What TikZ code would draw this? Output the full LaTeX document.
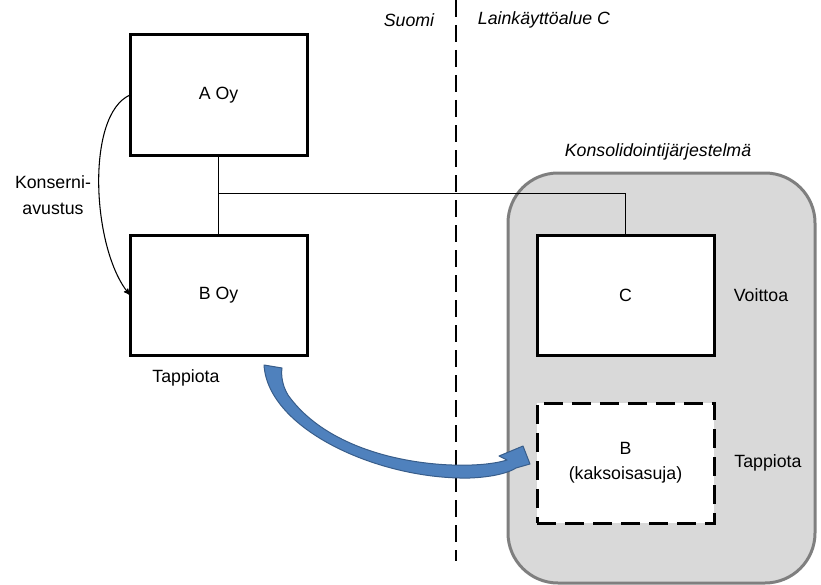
\documentclass[tikz,border=0pt]{standalone}
\usepackage{fontspec}
\setmainfont{Liberation Sans}
\usetikzlibrary{positioning}
\usetikzlibrary{arrows}
\definecolor{groupfill}{HTML}{D9D9D9}
\definecolor{groupline}{HTML}{7F7F7F}
\definecolor{movefill}{HTML}{4F81BD}
\definecolor{moveline}{HTML}{385D8A}
\tikzset{co/.style={rectangle,draw=black,line width=2.25pt,fill=white,minimum width=132.75pt,minimum height=90pt,inner sep=0pt,outer sep=0pt,align=center}}
\tikzset{twin/.style={co,dash pattern=on 14pt off 7pt}}
\tikzset{lbl/.style={inner sep=0pt,align=center}}
\tikzset{>=stealth'}

\begin{document}
\begin{tikzpicture}[x=0.75pt,y=-0.75pt,font=\fontsize{13.3}{19}\selectfont]
\useasboundingbox (0,0) rectangle (821,585);

% konsolidointi
\draw[fill=groupfill,draw=groupline,line width=2.25pt,rounded corners=37.5pt] (508,173) rectangle (815,583);
\node[lbl] (kons) at (658,152) {\itshape Konsolidointijärjestelmä};

% raja
\coordinate (top) at (456,0);
\coordinate (bot) at (456,561);
\draw[line width=1.5pt,dash pattern=on 12.75pt off 6pt] (top) -- (bot);
\node[lbl] (fi) at (409,20) {\itshape Suomi};
\node[lbl] (lc) at (544,20) {\itshape Lainkäyttöalue C};

\node[co] (A) at (218.5,95) {A Oy};
\node[co, below=60pt of A] (B) {B Oy};
\node[co, right=172.5pt of B] (C) {C};
\node[twin, below=36pt of C] (Bd) {B\\(kaksoisasuja)};

\coordinate (J) at (218.5,193);
\draw (A) -- (B);
\draw (J) -| (C.north);

\draw[->,thick,>={stealth'[scale=1.2]}] (A.west) .. controls +(-45,20) and +(-38,-45) .. (B.west);
\node[lbl] (ka) at (53,195) {Konserni-\\avustus};

\node[lbl] (lossB) at (186,378) {Tappiota};
\node[lbl] (gainC) at (761,295) {Voittoa};
\node[lbl] (lossBd) at (768,463) {Tappiota};

% siirto
\draw[fill=movefill,draw=moveline,line width=0.75pt,line join=round]
  (264,365) .. controls (268,430) and (380,480) .. (470,478)
  .. controls (495,477) and (510,472) .. (516,468) -- (530,464) -- (523,446)
  -- (499,456) -- (507,460) .. controls (470,472) and (340,468) .. (288,395)
  .. controls (282,385) and (281,375) .. (282,368) -- cycle;

\end{tikzpicture}
\end{document}
